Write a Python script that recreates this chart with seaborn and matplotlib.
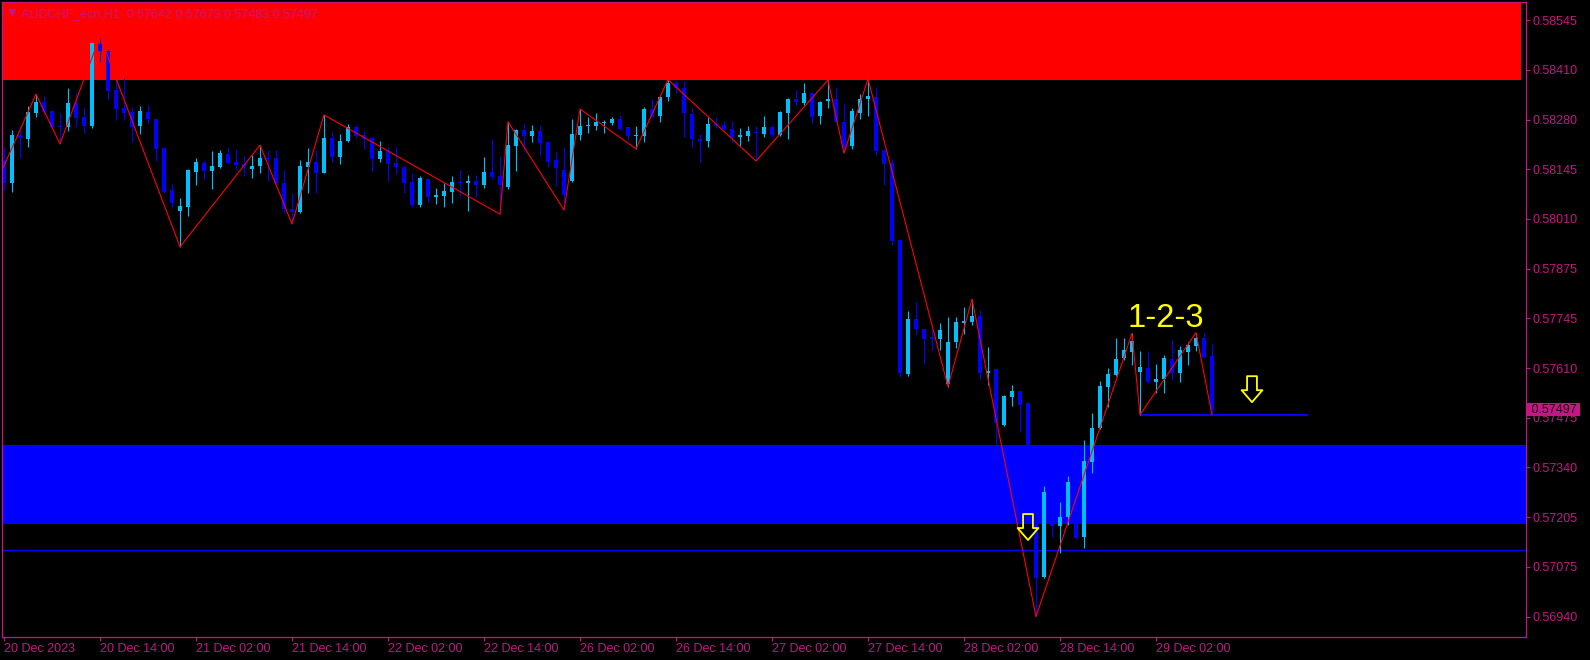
import numpy as np
import pandas as pd
import matplotlib
matplotlib.use("Agg")
import matplotlib.pyplot as plt
import seaborn as sns
from matplotlib.path import Path

# ---------------- data ----------------
symbol_title = "AUDCHF_ecn,H1  0.57642 0.57673 0.57483 0.57497"

opens = [0.58169, 0.58108, 0.58236, 0.58225, 0.58296, 0.58324, 0.58301, 0.58258, 0.58258, 0.58321,
         0.58284, 0.58261, 0.58481, 0.58463, 0.58357, 0.58310, 0.58299, 0.58261, 0.58299, 0.58279,
         0.58202, 0.58088, 0.58032, 0.58043, 0.58137, 0.58160, 0.58140, 0.58150, 0.58185, 0.58163,
         0.58157, 0.58145, 0.58153, 0.58175, 0.58174, 0.58106, 0.58037, 0.58029, 0.58151, 0.58163,
         0.58135, 0.58228, 0.58178, 0.58221, 0.58257, 0.58236, 0.58227, 0.58171, 0.58194, 0.58160,
         0.58149, 0.58110, 0.58048, 0.58118, 0.58070, 0.58072, 0.58083, 0.58110, 0.58108, 0.58111,
         0.58102, 0.58136, 0.58126, 0.58097, 0.58207, 0.58250, 0.58234, 0.58247, 0.58217, 0.58169,
         0.58142, 0.58113, 0.58236, 0.58260, 0.58261, 0.58269, 0.58269, 0.58278, 0.58257, 0.58233,
         0.58234, 0.58306, 0.58288, 0.58338, 0.58377, 0.58362, 0.58293, 0.58225, 0.58221, 0.58266,
         0.58263, 0.58252, 0.58231, 0.58233, 0.58245, 0.58239, 0.58258, 0.58236, 0.58296, 0.58333,
         0.58321, 0.58348, 0.58288, 0.58328, 0.58333, 0.58272, 0.58206, 0.58296, 0.58332, 0.58338,
         0.58196, 0.58160, 0.57953, 0.57593, 0.57741, 0.57713, 0.57692, 0.57686, 0.57566, 0.57680,
         0.57729, 0.57734, 0.57749, 0.57596, 0.57606, 0.57456, 0.57532, 0.57547, 0.57514, 0.57330,
         0.57047, 0.57275, 0.57185, 0.57209, 0.57303, 0.57155, 0.57357, 0.57447, 0.57559, 0.57590,
         0.57635, 0.57653, 0.57599, 0.57608, 0.57571, 0.57579, 0.57633, 0.57596, 0.57653, 0.57669,
         0.57689, 0.57642]
highs = [0.58203, 0.58250, 0.58250, 0.58314, 0.58346, 0.58340, 0.58303, 0.58294, 0.58362, 0.58348,
         0.58308, 0.58485, 0.58502, 0.58467, 0.58389, 0.58390, 0.58312, 0.58314, 0.58317, 0.58280,
         0.58203, 0.58104, 0.58067, 0.58145, 0.58173, 0.58169, 0.58193, 0.58196, 0.58203, 0.58199,
         0.58180, 0.58182, 0.58209, 0.58196, 0.58196, 0.58142, 0.58079, 0.58169, 0.58200, 0.58196,
         0.58290, 0.58245, 0.58239, 0.58266, 0.58263, 0.58247, 0.58229, 0.58220, 0.58203, 0.58203,
         0.58153, 0.58133, 0.58126, 0.58120, 0.58094, 0.58106, 0.58126, 0.58142, 0.58128, 0.58128,
         0.58176, 0.58224, 0.58180, 0.58272, 0.58251, 0.58266, 0.58263, 0.58263, 0.58218, 0.58191,
         0.58203, 0.58278, 0.58306, 0.58285, 0.58294, 0.58276, 0.58285, 0.58290, 0.58258, 0.58260,
         0.58312, 0.58333, 0.58341, 0.58385, 0.58384, 0.58382, 0.58308, 0.58239, 0.58285, 0.58284,
         0.58274, 0.58274, 0.58254, 0.58260, 0.58260, 0.58287, 0.58263, 0.58301, 0.58335, 0.58357,
         0.58377, 0.58353, 0.58328, 0.58384, 0.58366, 0.58319, 0.58308, 0.58346, 0.58387, 0.58366,
         0.58198, 0.58171, 0.57954, 0.57763, 0.57787, 0.57714, 0.57711, 0.57729, 0.57747, 0.57747,
         0.57774, 0.57794, 0.57765, 0.57665, 0.57607, 0.57536, 0.57563, 0.57548, 0.57516, 0.57335,
         0.57292, 0.57290, 0.57249, 0.57318, 0.57305, 0.57415, 0.57487, 0.57575, 0.57608, 0.57689,
         0.57689, 0.57702, 0.57656, 0.57654, 0.57620, 0.57644, 0.57683, 0.57668, 0.57680, 0.57704,
         0.57702, 0.57673]
lows = [0.58088, 0.58083, 0.58175, 0.58205, 0.58285, 0.58290, 0.58254, 0.58212, 0.58248, 0.58258,
        0.58241, 0.58256, 0.58433, 0.58333, 0.58276, 0.58276, 0.58218, 0.58239, 0.58268, 0.58166,
        0.58081, 0.58043, 0.57935, 0.58019, 0.58102, 0.58117, 0.58092, 0.58146, 0.58160, 0.58142,
        0.58127, 0.58121, 0.58135, 0.58113, 0.58099, 0.58027, 0.57997, 0.58027, 0.58079, 0.58081,
        0.58133, 0.58164, 0.58158, 0.58218, 0.58227, 0.58198, 0.58139, 0.58164, 0.58113, 0.58131,
        0.58081, 0.58043, 0.58043, 0.58057, 0.58050, 0.58043, 0.58054, 0.58070, 0.58032, 0.58068,
        0.58094, 0.58117, 0.58023, 0.58090, 0.58140, 0.58194, 0.58218, 0.58182, 0.58151, 0.58099,
        0.58034, 0.58110, 0.58223, 0.58242, 0.58250, 0.58241, 0.58263, 0.58250, 0.58223, 0.58199,
        0.58218, 0.58284, 0.58272, 0.58328, 0.58348, 0.58231, 0.58203, 0.58164, 0.58205, 0.58254,
        0.58250, 0.58218, 0.58206, 0.58221, 0.58166, 0.58230, 0.58230, 0.58233, 0.58225, 0.58315,
        0.58317, 0.58269, 0.58266, 0.58308, 0.58270, 0.58187, 0.58198, 0.58279, 0.58288, 0.58182,
        0.58102, 0.57940, 0.57586, 0.57588, 0.57698, 0.57620, 0.57657, 0.57657, 0.57559, 0.57662,
        0.57700, 0.57725, 0.57579, 0.57563, 0.57402, 0.57453, 0.57507, 0.57438, 0.57313, 0.56940,
        0.57045, 0.57155, 0.57112, 0.57186, 0.57149, 0.57124, 0.57326, 0.57444, 0.57505, 0.57588,
        0.57631, 0.57617, 0.57483, 0.57568, 0.57543, 0.57543, 0.57577, 0.57570, 0.57617, 0.57656,
        0.57636, 0.57483]
closes = [0.58108, 0.58236, 0.58229, 0.58297, 0.58324, 0.58297, 0.58258, 0.58257, 0.58321, 0.58283,
          0.58261, 0.58483, 0.58463, 0.58354, 0.58305, 0.58296, 0.58258, 0.58301, 0.58278, 0.58198,
          0.58083, 0.58052, 0.58045, 0.58142, 0.58163, 0.58139, 0.58153, 0.58187, 0.58162, 0.58155,
          0.58149, 0.58153, 0.58175, 0.58171, 0.58106, 0.58037, 0.58030, 0.58153, 0.58163, 0.58135,
          0.58228, 0.58178, 0.58220, 0.58258, 0.58234, 0.58225, 0.58171, 0.58193, 0.58158, 0.58149,
          0.58108, 0.58047, 0.58120, 0.58070, 0.58075, 0.58085, 0.58110, 0.58107, 0.58111, 0.58102,
          0.58136, 0.58124, 0.58101, 0.58209, 0.58250, 0.58234, 0.58247, 0.58215, 0.58164, 0.58148,
          0.58075, 0.58239, 0.58260, 0.58263, 0.58272, 0.58272, 0.58279, 0.58252, 0.58234, 0.58236,
          0.58306, 0.58285, 0.58339, 0.58377, 0.58362, 0.58294, 0.58224, 0.58221, 0.58266, 0.58261,
          0.58252, 0.58231, 0.58236, 0.58247, 0.58242, 0.58258, 0.58236, 0.58297, 0.58333, 0.58326,
          0.58348, 0.58285, 0.58326, 0.58333, 0.58272, 0.58200, 0.58301, 0.58333, 0.58341, 0.58194,
          0.58158, 0.57951, 0.57595, 0.57741, 0.57713, 0.57688, 0.57686, 0.57711, 0.57678, 0.57733,
          0.57735, 0.57749, 0.57596, 0.57601, 0.57460, 0.57534, 0.57547, 0.57509, 0.57330, 0.57043,
          0.57275, 0.57185, 0.57209, 0.57303, 0.57151, 0.57359, 0.57448, 0.57561, 0.57593, 0.57633,
          0.57657, 0.57682, 0.57611, 0.57570, 0.57579, 0.57635, 0.57596, 0.57657, 0.57671, 0.57689,
          0.57638, 0.57497]

# zigzag pivots (bar index, price)
zigzag_bars = [-1, 4, 7, 12, 22, 32, 36, 40, 62, 63, 70, 72, 79, 83, 94, 103, 105, 108,
               118, 121, 129, 141, 142, 149, 151]
zigzag_prices = [0.58105, 0.58346, 0.58212, 0.58502, 0.57935, 0.58209, 0.57997, 0.58290,
                 0.58023, 0.58272, 0.58034, 0.58306, 0.58199, 0.58385, 0.58166, 0.58384,
                 0.58187, 0.58387, 0.57559, 0.57794, 0.56940, 0.57702, 0.57483, 0.57704, 0.57483]

# zones and lines
red_zone = (0.58384, 0.58700)
blue_zone = (0.57190, 0.57402)
support_line = 0.57120
pattern_line_price = 0.57483
pattern_line_bars = (142, 163)

# yellow arrows
arrow_bars = [128, 156]
arrow_prices = [0.57181, 0.57552]

label_123 = "1-2-3"
label_123_pos = (145.2, 0.57719)

current_price = 0.57497
current_price_text = "0.57497"

x_tick_bars = [0, 12, 24, 36, 48, 60, 72, 84, 96, 108, 120, 132, 144]
x_tick_labels = ["20 Dec 2023", "20 Dec 14:00", "21 Dec 02:00", "21 Dec 14:00",
                 "22 Dec 02:00", "22 Dec 14:00", "26 Dec 02:00", "26 Dec 14:00",
                 "27 Dec 02:00", "27 Dec 14:00", "28 Dec 02:00", "28 Dec 14:00",
                 "29 Dec 02:00"]
y_tick_labels = ["0.56940", "0.57075", "0.57205", "0.57340", "0.57475", "0.57610",
                 "0.57745", "0.57875", "0.58010", "0.58145", "0.58280", "0.58410", "0.58545"]

# ---------------- styling ----------------
MAG = "#C71585"
BULL = "#00BFFF"
BEAR = "#0000FF"

sns.set_theme(style="ticks")
plt.rcParams["font.family"] = ["Liberation Sans", "DejaVu Sans"]

fig = plt.figure(figsize=(15.9, 6.6), dpi=100, facecolor="black")
ax = fig.add_axes([2 / 1590, 23 / 660, 1524 / 1590, 635 / 660])
ax.set_facecolor("black")

o = np.array(opens)
h = np.array(highs)
l = np.array(lows)
c = np.array(closes)
bars = np.arange(len(o))
cols = np.where(c >= o, BULL, BEAR)

# zones (behind candles)
ax.axhspan(red_zone[0], red_zone[1], xmin=0, xmax=0.9967, color="#FF0000", lw=0, zorder=1)
ax.axhspan(blue_zone[0], blue_zone[1], xmin=0, xmax=1, color="#0000FF", lw=0, zorder=1)
ax.axhline(support_line, color="#0000FF", lw=1.0, zorder=2)
ax.hlines(pattern_line_price, pattern_line_bars[0], pattern_line_bars[1],
          color="#0000FF", lw=1.5, zorder=2)

# candles
ax.vlines(bars, l, h, colors=cols, linewidth=0.8, zorder=3)
body = np.maximum(np.abs(c - o), 0.00003)
ax.bar(bars, body, bottom=np.minimum(o, c), width=0.62, color=cols, linewidth=0, zorder=4)

# zigzag with seaborn
zz = pd.DataFrame({"bar": zigzag_bars, "price": zigzag_prices})
sns.lineplot(data=zz, x="bar", y="price", sort=False, estimator=None,
             color="#FF0000", linewidth=0.8, ax=ax, zorder=6)

# hollow down arrows
arrow_path = Path([(-0.19, 0.5), (0.19, 0.5), (0.19, -0.04), (0.40, -0.04),
                   (0.0, -0.5), (-0.40, -0.04), (-0.19, -0.04), (-0.19, 0.5)],
                  [Path.MOVETO] + [Path.LINETO] * 6 + [Path.CLOSEPOLY])
ax.scatter(arrow_bars, arrow_prices, marker=arrow_path, s=350, facecolors="none",
           edgecolors="#FFFF00", linewidths=1.3, zorder=7)

ax.text(label_123_pos[0], label_123_pos[1], label_123, color="#FFFF00", fontsize=23.5,
        ha="center", va="baseline", zorder=8)

# axes limits & ticks
ax.set_xlim(-0.25, 190.25)
ax.set_ylim(0.56885, 0.58594)
ax.set_xlabel("")
ax.set_ylabel("")

ax.set_xticks(x_tick_bars)
ax.set_xticklabels(x_tick_labels, ha="left")
ax.yaxis.tick_right()
y_tick_pos = np.linspace(0.56940, 0.58545, len(y_tick_labels))
ax.set_yticks(y_tick_pos)
ax.set_yticklabels(y_tick_labels)

ax.tick_params(axis="x", bottom=True, top=False, direction="out", length=3, width=0.8,
               color=MAG, labelcolor=MAG, labelsize=9, pad=1)
ax.tick_params(axis="y", right=True, left=False, labelright=True, labelleft=False,
               direction="out", length=3, width=0.8, color=MAG, labelcolor=MAG,
               labelsize=9, pad=1.5)

for sp in ax.spines.values():
    sp.set_visible(True)
    sp.set_color(MAG)
    sp.set_linewidth(0.9)
    sp.set_zorder(9)

# title in the corner
ax.text(0.0066, 0.9831, "\u25BC", transform=ax.transAxes, fontsize=8, color=MAG,
        ha="center", va="center", family=["DejaVu Sans"], zorder=10)
ax.text(0.0123, 0.9769, symbol_title, transform=ax.transAxes, fontsize=9, color=MAG,
        ha="left", va="baseline", zorder=10)

# current price tag
ax.annotate(" " + current_price_text + " ", xy=(1.0, current_price),
            xycoords=("axes fraction", "data"),
            xytext=(1.2, 0), textcoords="offset points", ha="left", va="center",
            fontsize=9, color="#1a0010", annotation_clip=False, zorder=11,
            bbox=dict(boxstyle="square,pad=0.02", fc=MAG, ec="none"))

fig.savefig("out.png", dpi=100, facecolor="black")
